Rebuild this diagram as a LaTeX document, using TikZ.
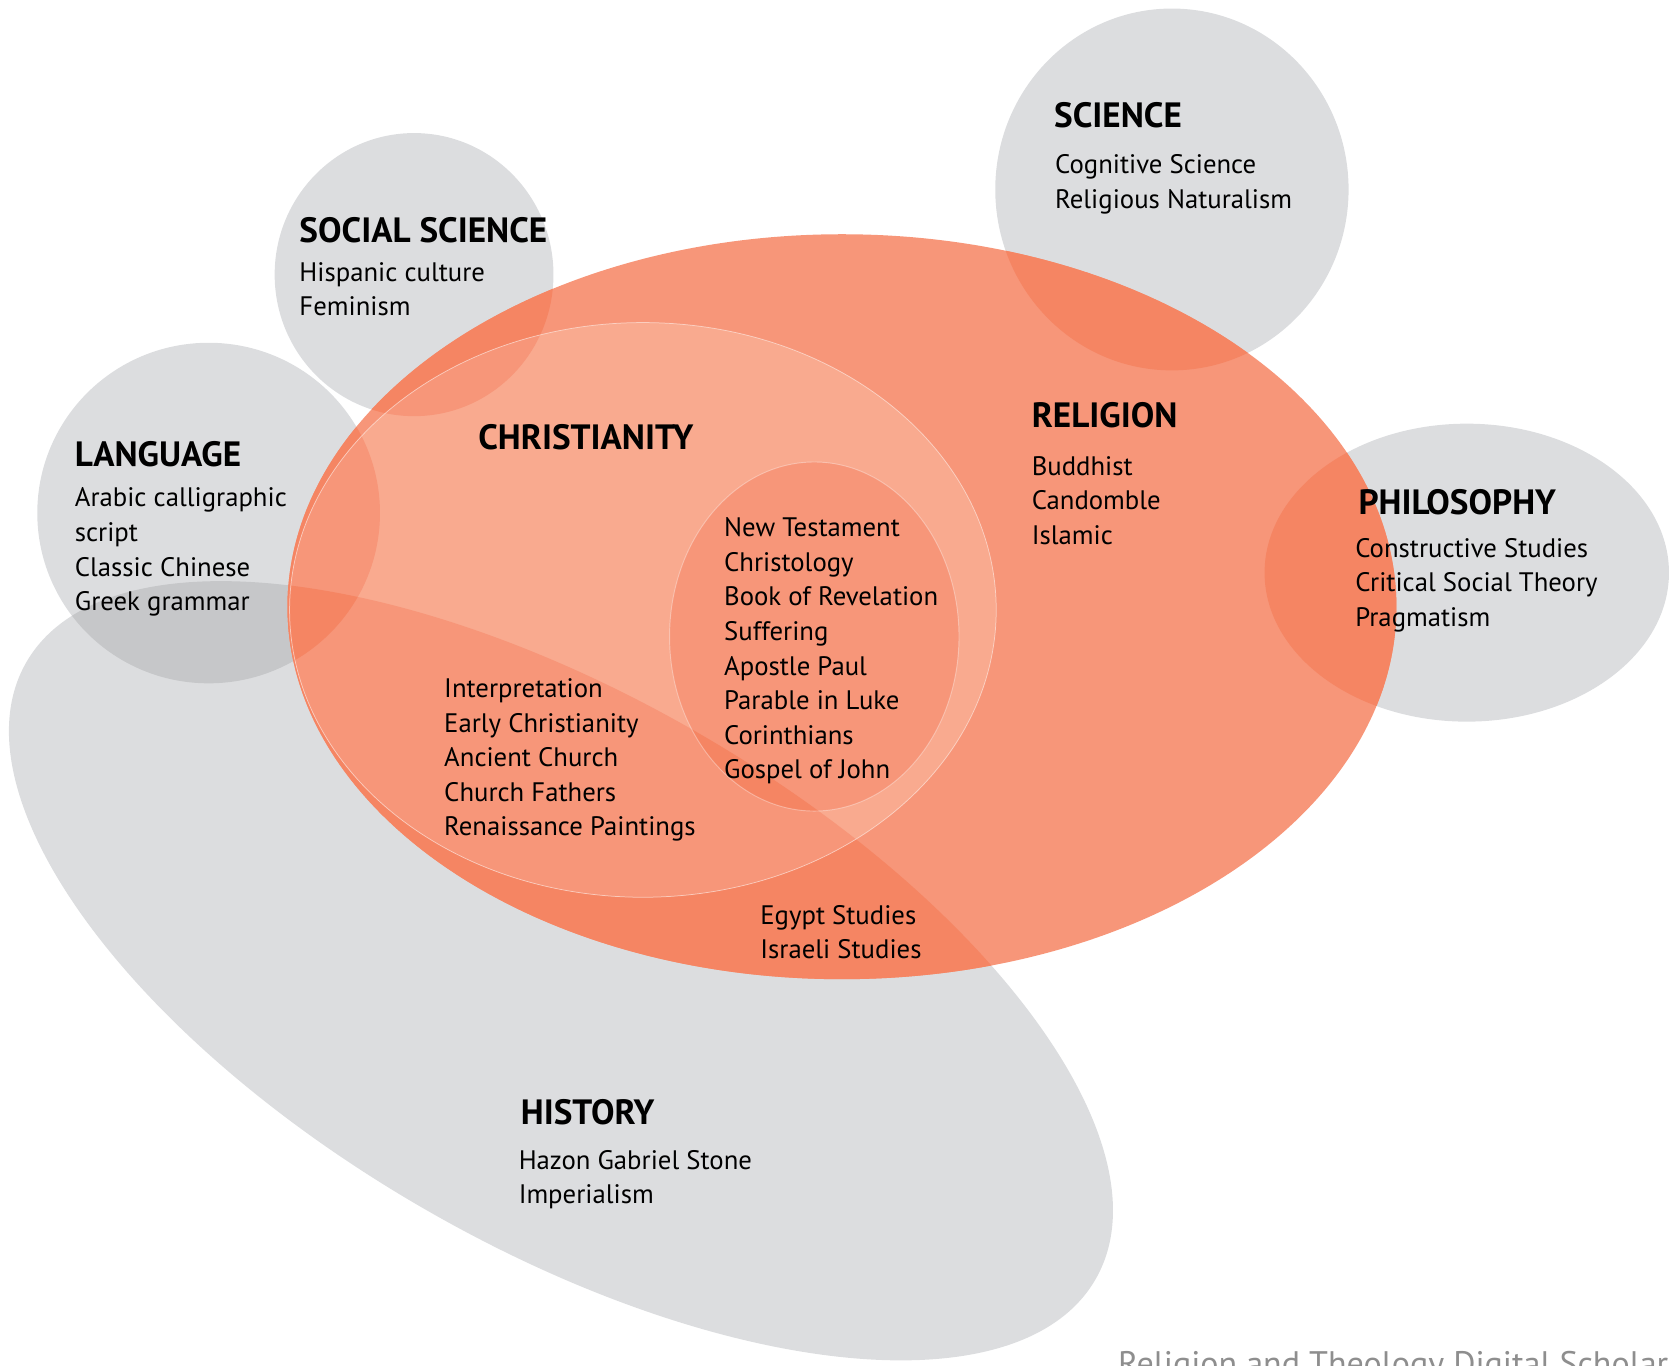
\documentclass[tikz,border=0pt]{standalone}
\usepackage{fontspec}
\setmainfont{PT Sans}

\definecolor{greyfield}{HTML}{DCDDDF}
\definecolor{greydark}{HTML}{C6C7C9}
\definecolor{orangelight}{HTML}{F9AA8F}
\definecolor{orangemid}{HTML}{F79679}
\definecolor{orangedark}{HTML}{F58563}
\definecolor{creditgrey}{HTML}{8E8E8E}

% outlines of the fields, in display pixels
\newcommand{\pReligion}{(791,570) ellipse [x radius=10.42cm, y radius=7cm]}
\newcommand{\pChrist}{(604,573) ellipse [x radius=6.64cm, y radius=5.4cm]}
\newcommand{\pNewTest}{(765,598) ellipse [x radius=2.72cm, y radius=3.28cm]}
\newcommand{\pSocial}{(389,258) ellipse [x radius=2.62cm, y radius=2.66cm]}
\newcommand{\pScience}{(1101,178) ellipse [x radius=3.32cm, y radius=3.4cm]}
\newcommand{\pLang}{(196,482) ellipse [x radius=3.22cm, y radius=3.2cm]}
\newcommand{\pPhilo}{(1378,538) ellipse [x radius=3.8cm, y radius=2.8cm]}
\newcommand{\pHist}{(527,912) ellipse [x radius=11.6cm, y radius=5.16cm, rotate=-30]}

\begin{document}
\begin{tikzpicture}[x=0.02cm,y=-0.02cm]
\tikzset{heading/.style={anchor=base west, inner sep=0pt, font=\fontsize{18.8}{22}\selectfont\bfseries},
  topics/.style={anchor=north west, inner sep=0pt, align=left, font=\fontsize{14.3}{18.5}\selectfont}}
\clip (0,0) rectangle (1568,1283);
% grey fields
\fill[greyfield] \pSocial;
\fill[greyfield] \pScience;
\fill[greyfield] \pLang;
\fill[greyfield] \pPhilo;
\fill[greyfield] \pHist;
\begin{scope}
\clip \pLang;
\fill[greydark] \pHist;
\end{scope}
% religion
\fill[orangemid] \pReligion;
\begin{scope}
\clip \pReligion;
\fill[orangedark] \pSocial;
\fill[orangedark] \pScience;
\fill[orangedark] \pLang;
\fill[orangedark] \pPhilo;
\fill[orangedark] \pHist;
\end{scope}
% christianity
\fill[orangelight] \pChrist;
\begin{scope}
\clip \pChrist;
\fill[orangemid] \pSocial;
\fill[orangemid] \pLang;
\fill[orangemid] \pHist;
\clip \pLang;
\fill[orangedark] \pHist;
\end{scope}
\draw[white, opacity=0.5, line width=0.4pt] \pChrist;
% new testament
\fill[orangemid] \pNewTest;
\begin{scope}
\clip \pNewTest;
\fill[orangedark] \pHist;
\end{scope}
\draw[white, opacity=0.35, line width=0.5pt] \pNewTest;

\node[heading] (science) at (990,120) {SCIENCE};
\node[topics] (sciencelist) at (991,140.2) {\strut Cognitive Science\\Religious Naturalism};
\node[heading] (social) at (281,228) {SOCIAL SCIENCE};
\node[topics] (sociallist) at (281,241.2) {\strut Hispanic culture\\Feminism};
\node[heading] (language) at (70,438) {LANGUAGE};
\node[topics] (languagelist) at (70,453.2) {\strut Arabic calligraphic\\script\\Classic Chinese\\Greek grammar};
\node[heading] (christianity) at (449,422) {CHRISTIANITY};
\node[heading] (religion) at (969,402) {RELIGION};
\node[topics] (religionlist) at (969,423.2) {\strut Buddhist\\Candomble\\Islamic};
\node[heading] (philosophy) at (1276,483) {PHILOSOPHY};
\node[topics] (philosophylist) at (1273,500.2) {\strut Constructive Studies\\Critical Social Theory\\Pragmatism};
\node[topics] (newtestament) at (680,481.2) {\strut New Testament\\Christology\\Book of Revelation\\Suffering\\Apostle Paul\\Parable in Luke\\Corinthians\\Gospel of John};
\node[topics] (earlychurch) at (417,632.2) {\strut Interpretation\\Early Christianity\\Ancient Church\\Church Fathers\\Renaissance Paintings};
\node[topics] (middleeast) at (714,845.2) {\strut Egypt Studies\\Israeli Studies};
\node[heading] (history) at (489,1056) {HISTORY};
\node[topics] (historylist) at (487,1075.2) {\strut Hazon Gabriel Stone\\Imperialism};
\node[anchor=base west, inner sep=0pt, text=creditgrey, font=\fontsize{18.2}{21}\selectfont] (credit) at (1050,1292) {Religion and Theology Digital Scholarship};
\end{tikzpicture}
\end{document}
